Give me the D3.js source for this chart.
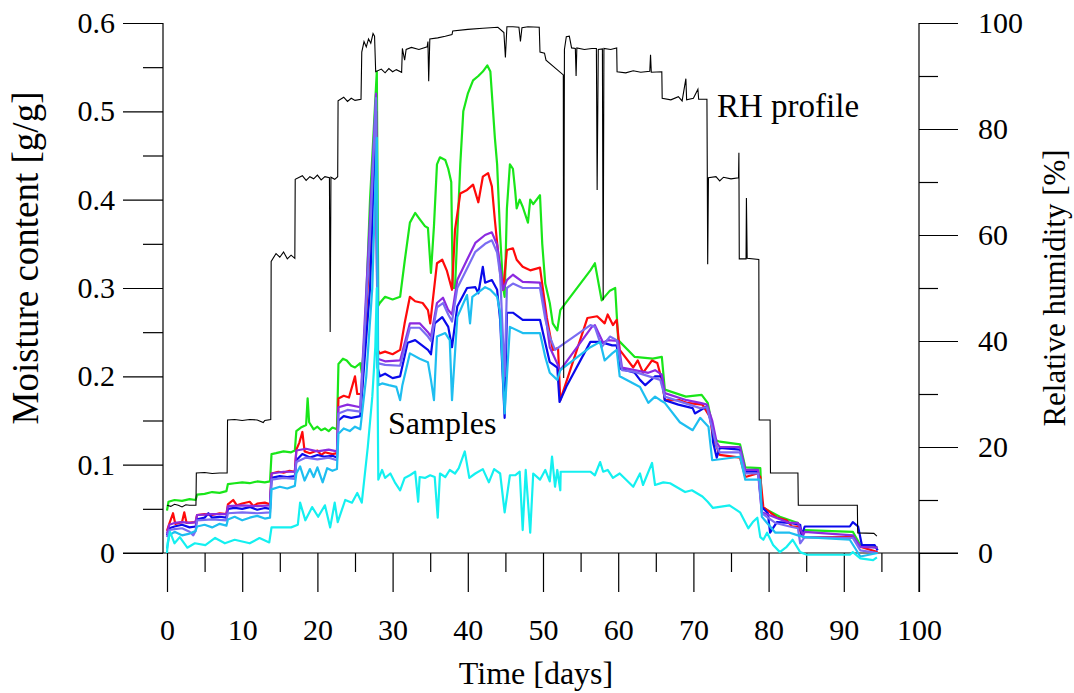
<!DOCTYPE html>
<html><head><meta charset="utf-8">
<script src="https://cdn.jsdelivr.net/npm/d3@7"></script>
<style>
html,body{margin:0;padding:0;background:#fff;}
svg{display:block;font-family:"Liberation Serif","Times New Roman",serif;}
</style></head>
<body><svg id="chart" width="1074" height="693"></svg>
<script>
// ---------- DATA ----------
const xTicksMajor = [0,10,20,30,40,50,60,70,80,90,100];
const xTicksMinor = [5,15,25,35,45,55,65,75,85,95];
const yTicksMajor = [0,0.1,0.2,0.3,0.4,0.5,0.6];
const yTicksMinor = [0.05,0.15,0.25,0.35,0.45,0.55];
const rhTicksMajor = [0,20,40,60,80,100];
const rhTicksMinor = [10,30,50,70,90];

// RH profile: [day, RH %]
const rhProfile = [[0,9.0],[0.5,8.8],[1,9.2],[1.5,9.0],[2,8.7],[2.5,9.1],[3,9.0],[3.85,9.0],
[3.9,15.1],[5,15.2],[6,15.0],[7,15.1],[8.0,15.1],
[8.05,25.1],[9,25.2],[10,25.0],[11,25.2],[12,25.1],[12.8,24.6],[13,25.0],[13.8,25.2],
[13.85,55.0],[14.5,56.5],[15,55.8],[15.5,56.8],[16,55.5],[16.5,56.2],[17,55.6],
[17.05,70.5],[18,71.2],[18.5,70.3],[19,71.0],[19.5,70.6],[20,71.3],[20.5,70.4],[21,71.0],[21.6,70.8],[21.7,41.7],[21.8,70.9],[22.3,70.5],[22.7,71.0],
[22.75,85.3],[23.5,86.0],[24,85.2],[24.5,85.8],[25,85.4],[25.8,85.6],
[25.9,94.5],[26.2,96.5],[26.5,95.5],[26.8,97.0],[27.1,96.2],[27.4,98.0],[27.6,97.5],
[27.75,90.8],[28.5,91.3],[29,90.6],[29.5,91.4],[30,90.8],[30.5,91.2],[31.2,90.7],
[31.3,95.2],[31.6,93.0],[31.8,95.0],[32.5,95.4],[33.5,95.0],[34.6,95.5],
[34.7,96.5],[34.8,89],[34.95,97.0],[36,97.2],[37,97.5],[37.9,97.8],
[38,98.5],[40,98.8],[42,99.0],[44,99.2],[44.8,98.2],[45,93.5],[45.2,99.3],[46,99.3],[46.8,99.2],[47,96.5],[47.2,99.1],[48,99.3],[49.5,99.2],
[49.6,94.5],[50.2,94.3],[50.4,93.0],[52.7,90.2],[52.75,33],[52.85,95],[53.1,97.4],[53.5,97.5],[53.8,95.3],[54.3,95.2],[54.4,90],[54.5,95.3],[55.5,95.0],[56.5,95.2],[57.1,95.2],[57.2,68.5],[57.35,95],[57.9,95.1],[58.0,47.7],[58.1,95.2],[59,95.0],[59.8,95.3],
[59.85,90.8],[61,90.6],[62,91.0],[63,90.7],[64.2,90.9],[64.3,94.0],[64.4,90.7],[65.8,90.8],
[65.85,85.8],[67,85.5],[68,86.1],[68.5,85.3],[69,89.5],[69.1,85.5],[70,85.8],[70.6,87.5],[70.7,85.6],[71.8,85.6],
[71.85,70.8],[71.9,54.5],[72,70.8],[73,71.0],[73.5,70.2],[74,70.9],[75,70.6],[76.0,70.8],[76.05,75.5],[76.1,55.5],[77,55.5],[77.05,67],[77.15,55.6],[78.7,55.4],
[78.75,25.1],[80.2,25.1],[80.25,15.1],[83.9,15.1],[83.95,9.0],[91.8,9.0],[91.85,3.8],[94,3.7],[94.4,3.2]];

// Sample moisture contents: [day, g/g]
const sampleGreen = [[0,0.048],[0.2,0.058],[1,0.06],[2,0.059],[3,0.061],[3.8,0.06],[4.0,0.066],[5,0.067],[6,0.069],[7,0.068],[7.9,0.07],[8.1,0.078],[9,0.079],[10,0.08],[11,0.079],[12,0.081],[13,0.08],[13.7,0.081],[13.9,0.112],[14.5,0.113],[15.5,0.115],[16.5,0.114],[17.0,0.116],[17.2,0.138],[17.8,0.142],[18.5,0.145],[18.7,0.175],[18.9,0.148],[19.5,0.14],[20,0.143],[20.5,0.139],[21,0.141],[21.5,0.138],[22,0.142],[22.6,0.14],[22.8,0.214],[23.4,0.22],[23.9,0.218],[24.5,0.212],[25,0.21],[25.7,0.215],[25.9,0.204],[26.3,0.245],[27.0,0.4],[27.9,0.545],[28.1,0.28],[28.3,0.283],[29,0.29],[30,0.287],[31.0,0.29],[31.6,0.33],[32.3,0.374],[33,0.385],[33.6,0.378],[34.3,0.37],[34.7,0.368],[35.1,0.317],[35.5,0.37],[35.9,0.44],[36.3,0.448],[37,0.445],[37.4,0.435],[37.8,0.42],[38.0,0.3],[38.3,0.3],[39.0,0.44],[39.4,0.5],[40.0,0.52],[40.7,0.535],[41.4,0.54],[42,0.545],[42.6,0.552],[43.0,0.545],[43.2,0.52],[43.6,0.47],[43.9,0.44],[44.3,0.36],[44.7,0.3],[44.9,0.29],[45.2,0.39],[45.6,0.44],[46,0.435],[46.3,0.41],[46.5,0.39],[46.9,0.4],[47.3,0.392],[48.0,0.374],[48.3,0.4],[48.7,0.395],[49.6,0.405],[49.9,0.35],[50.3,0.305],[50.9,0.283],[51.3,0.26],[51.9,0.252],[52.3,0.275],[56.3,0.32],[56.9,0.328],[57.8,0.286],[58.9,0.297],[59.6,0.3],[60.0,0.241],[62.2,0.222],[64.6,0.22],[65.8,0.222],[66.2,0.185],[69,0.177],[71.1,0.179],[71.9,0.17],[72.9,0.128],[73.5,0.126],[76.2,0.123],[76.9,0.097],[78.9,0.096],[79.1,0.052],[81.5,0.041],[83.9,0.034],[84.4,0.024],[84.8,0.026],[91.2,0.024],[92.2,0.009],[94.5,0.006]];

const sampleRed = [[0,0.025],[0.3,0.033],[0.8,0.045],[1.1,0.033],[2,0.035],[2.3,0.046],[2.6,0.034],[3.8,0.035],[4.0,0.043],[5,0.044],[6,0.043],[7,0.045],[7.9,0.044],[8.1,0.055],[8.8,0.06],[9.3,0.054],[10,0.056],[11,0.058],[11.5,0.053],[12,0.056],[13,0.057],[13.7,0.055],[13.9,0.09],[14.8,0.092],[15.5,0.091],[16.3,0.093],[17.0,0.092],[17.2,0.117],[17.6,0.125],[18.0,0.137],[18.3,0.115],[19,0.113],[20,0.116],[20.5,0.111],[21,0.114],[22,0.112],[22.6,0.113],[22.8,0.175],[23.5,0.178],[24.2,0.176],[25.0,0.2],[25.3,0.18],[25.9,0.18],[27.0,0.35],[27.8,0.5],[28.0,0.23],[28.3,0.226],[29,0.228],[30,0.225],[31.0,0.23],[31.6,0.26],[32.3,0.29],[33,0.285],[34,0.283],[34.7,0.275],[35.0,0.26],[35.9,0.328],[36.6,0.332],[37.2,0.32],[37.9,0.298],[38.3,0.366],[39,0.407],[39.9,0.411],[40.7,0.417],[41.4,0.397],[42,0.426],[42.7,0.43],[43.2,0.415],[43.6,0.377],[44.3,0.317],[44.7,0.298],[45.2,0.343],[46,0.345],[46.5,0.332],[47.3,0.324],[48.3,0.32],[49.6,0.323],[50.5,0.267],[51.3,0.23],[52.0,0.232],[52.3,0.173],[55.9,0.266],[57.2,0.268],[58.2,0.26],[58.6,0.27],[59.3,0.258],[59.8,0.264],[60.2,0.23],[62.0,0.21],[62.6,0.218],[63.3,0.204],[64.5,0.218],[65.2,0.215],[65.8,0.196],[66.2,0.173],[68.2,0.173],[69.1,0.17],[71.2,0.168],[72.2,0.154],[72.6,0.131],[73.5,0.111],[76.2,0.108],[76.9,0.086],[78.5,0.09],[78.9,0.086],[79.3,0.052],[81.1,0.04],[82.4,0.037],[83.1,0.03],[83.9,0.03],[84.6,0.018],[91.2,0.018],[92.2,0.007],[94.5,0.001]];

const sampleBlue = [[0,0.02],[0.3,0.028],[1,0.03],[2,0.032],[3,0.029],[3.8,0.03],[4.0,0.038],[5,0.04],[5.5,0.045],[6,0.04],[7,0.041],[7.9,0.04],[8.1,0.05],[9,0.051],[10,0.05],[11,0.052],[12,0.049],[13,0.051],[13.7,0.05],[13.9,0.085],[15,0.087],[16,0.086],[17.0,0.087],[17.2,0.105],[18,0.112],[19,0.108],[20,0.111],[21,0.109],[22,0.11],[22.6,0.108],[22.8,0.15],[23.5,0.155],[24.5,0.153],[25.7,0.155],[27.0,0.3],[27.8,0.5],[28.0,0.21],[28.3,0.2],[29,0.203],[30,0.198],[31.0,0.2],[32.0,0.238],[33.0,0.241],[34.7,0.23],[35.1,0.225],[35.6,0.26],[36.6,0.267],[37.4,0.256],[37.9,0.233],[38.6,0.279],[39.9,0.3],[41.0,0.301],[41.4,0.294],[42.0,0.324],[42.3,0.306],[43.2,0.309],[43.9,0.298],[44.3,0.264],[44.9,0.153],[45.2,0.272],[46,0.272],[47.3,0.264],[49.6,0.264],[50.3,0.238],[50.9,0.216],[51.9,0.21],[52.2,0.171],[53.2,0.19],[56.3,0.239],[57.6,0.239],[59.2,0.235],[59.8,0.235],[60.2,0.209],[62.2,0.204],[62.9,0.196],[63.6,0.19],[64.9,0.2],[65.8,0.2],[66.2,0.173],[68.0,0.168],[69.9,0.164],[70.2,0.158],[71.8,0.166],[72.5,0.143],[72.6,0.126],[73.1,0.108],[73.5,0.119],[76.2,0.117],[76.9,0.092],[78.6,0.092],[79.1,0.052],[79.9,0.045],[80.2,0.023],[81.1,0.035],[82.8,0.034],[84.2,0.032],[84.4,0.02],[84.8,0.03],[90.8,0.03],[91.2,0.035],[91.9,0.03],[92.4,0.009],[94.1,0.009],[94.5,0.003]];

const samplePurple = [[0,0.022],[0.3,0.032],[1,0.034],[2,0.035],[3,0.034],[3.8,0.035],[4.0,0.043],[6,0.044],[7.9,0.044],[8.1,0.053],[10,0.054],[12,0.053],[13.7,0.054],[13.9,0.09],[15.5,0.092],[17.0,0.092],[17.2,0.116],[18.5,0.118],[20,0.115],[21.5,0.117],[22.6,0.115],[22.8,0.165],[24,0.168],[25.7,0.165],[27.0,0.38],[27.8,0.52],[28.0,0.22],[29,0.217],[31.0,0.218],[32.3,0.26],[33.6,0.26],[34.7,0.25],[35.1,0.245],[35.9,0.283],[36.7,0.289],[37.4,0.275],[37.9,0.27],[38.6,0.309],[39.9,0.332],[41.0,0.351],[42.3,0.36],[43.2,0.363],[43.9,0.349],[44.3,0.324],[44.7,0.298],[45.2,0.309],[46,0.315],[47.3,0.307],[49.6,0.306],[50.3,0.272],[50.9,0.233],[52.3,0.207],[56.5,0.256],[56.9,0.258],[58.0,0.238],[58.6,0.241],[60.0,0.24],[60.5,0.21],[62.2,0.207],[64.0,0.204],[64.9,0.207],[65.8,0.202],[66.2,0.181],[69.1,0.173],[70.9,0.17],[71.8,0.168],[72.5,0.15],[73.1,0.125],[73.5,0.12],[76.2,0.12],[76.9,0.094],[78.6,0.094],[79.1,0.046],[82.8,0.034],[83.9,0.034],[84.6,0.02],[84.8,0.024],[91.2,0.02],[92.2,0.007],[94.5,0.006]];

const sampleSlate = [[0,0.018],[0.3,0.026],[1,0.027],[2,0.028],[3,0.024],[3.5,0.02],[3.8,0.025],[4.0,0.037],[6,0.038],[7.9,0.037],[8.1,0.045],[10,0.046],[12,0.045],[13.7,0.046],[13.9,0.083],[15.5,0.085],[17.0,0.084],[17.2,0.103],[18.5,0.108],[20,0.106],[21.5,0.108],[22.6,0.105],[22.8,0.158],[24,0.162],[25.7,0.16],[27.0,0.36],[27.8,0.515],[28.0,0.215],[29,0.213],[31.0,0.212],[32.3,0.255],[33.6,0.255],[34.7,0.245],[35.1,0.24],[35.9,0.278],[36.7,0.283],[37.4,0.27],[37.9,0.262],[38.6,0.3],[39.9,0.322],[41.0,0.341],[42.3,0.35],[43.2,0.354],[43.9,0.34],[44.3,0.315],[44.9,0.2],[45.2,0.3],[46,0.305],[47.3,0.3],[49.6,0.3],[50.3,0.265],[50.9,0.245],[51.6,0.23],[56.3,0.258],[56.9,0.256],[57.8,0.233],[58.9,0.245],[59.8,0.241],[60.5,0.207],[62.2,0.205],[65.6,0.196],[66.2,0.177],[70.9,0.164],[71.8,0.165],[73.1,0.12],[73.5,0.114],[76.2,0.114],[76.9,0.09],[78.6,0.09],[79.1,0.045],[80.9,0.034],[82.8,0.03],[83.9,0.028],[84.2,0.011],[84.8,0.018],[91.2,0.017],[92.2,0.003],[94.5,0.0]];

const sampleSky = [[0,0.005],[0.3,0.02],[1,0.024],[2,0.02],[3,0.022],[3.8,0.025],[4.0,0.03],[5,0.032],[6,0.029],[7,0.033],[7.9,0.031],[8.1,0.038],[9,0.041],[10,0.037],[11,0.04],[12,0.042],[13,0.039],[13.7,0.04],[13.9,0.072],[15,0.075],[16,0.073],[17.0,0.076],[17.2,0.09],[17.7,0.098],[18.3,0.082],[19,0.095],[19.5,0.086],[20,0.097],[20.7,0.08],[21.3,0.096],[22,0.093],[22.6,0.095],[22.8,0.135],[23.5,0.141],[24.3,0.138],[25,0.143],[25.7,0.14],[26.5,0.2],[27.3,0.3],[27.9,0.47],[28.1,0.19],[28.6,0.192],[29.5,0.19],[30.5,0.188],[31.0,0.173],[31.3,0.19],[32.3,0.226],[33.6,0.22],[34.7,0.216],[35.1,0.196],[35.5,0.173],[35.9,0.245],[37.0,0.249],[37.6,0.241],[37.9,0.173],[38.6,0.267],[39.9,0.292],[40.3,0.26],[40.6,0.29],[41.4,0.295],[42.3,0.301],[43.0,0.298],[43.9,0.29],[44.3,0.272],[44.9,0.158],[45.6,0.256],[47.3,0.249],[49.6,0.249],[50.3,0.222],[50.9,0.204],[51.9,0.196],[52.3,0.207],[56.3,0.233],[57.6,0.239],[58.2,0.218],[59.2,0.226],[59.8,0.23],[60.2,0.2],[62.9,0.188],[64.0,0.17],[64.9,0.177],[65.6,0.173],[66.2,0.17],[68.2,0.148],[69.9,0.139],[70.9,0.153],[72.0,0.143],[72.5,0.105],[76.2,0.109],[76.9,0.083],[78.9,0.083],[79.1,0.041],[80.9,0.023],[82.8,0.023],[83.9,0.02],[84.8,0.018],[90.8,0.015],[92.2,-0.004],[94.5,0.0]];

const sampleCyan = [[0,0.0],[0.1,0.012],[0.4,0.024],[1.0,0.011],[1.7,0.018],[2.7,0.006],[3.7,0.011],[5.1,0.009],[6.4,0.017],[7.7,0.011],[9.0,0.015],[11.0,0.011],[12.3,0.017],[13.6,0.012],[13.9,0.029],[16.5,0.029],[17.4,0.032],[17.7,0.057],[18.4,0.037],[19.3,0.052],[20.1,0.041],[21.0,0.054],[21.7,0.029],[22.3,0.057],[22.7,0.035],[23.7,0.06],[24.6,0.057],[25.3,0.068],[25.9,0.057],[26.7,0.12],[27.3,0.177],[27.7,0.233],[27.9,0.3],[28.1,0.083],[28.6,0.094],[29.0,0.085],[29.7,0.09],[30.3,0.08],[31.0,0.071],[31.6,0.085],[32.3,0.088],[33.0,0.092],[33.4,0.058],[33.6,0.086],[34.3,0.085],[35.0,0.088],[35.6,0.086],[36.0,0.04],[36.3,0.09],[37.0,0.086],[37.6,0.094],[38.3,0.09],[38.8,0.096],[39.6,0.115],[40.2,0.085],[41,0.09],[42,0.095],[42.8,0.08],[43.5,0.095],[44.3,0.09],[44.9,0.046],[45.6,0.088],[46.3,0.088],[46.9,0.092],[47.3,0.026],[47.7,0.094],[48.3,0.023],[48.7,0.09],[49.6,0.083],[50.3,0.094],[50.9,0.081],[51.2,0.109],[51.6,0.075],[51.9,0.094],[52.3,0.071],[52.35,0.092],[56.3,0.092],[56.9,0.088],[57.6,0.103],[58.0,0.092],[58.6,0.094],[59.3,0.085],[60.2,0.09],[62.0,0.075],[62.9,0.09],[63.3,0.077],[64.5,0.102],[64.9,0.077],[66.0,0.08],[66.9,0.079],[68.9,0.069],[69.8,0.071],[71.2,0.064],[71.9,0.058],[72.6,0.051],[74.8,0.054],[76.2,0.046],[77.3,0.028],[77.9,0.035],[78.5,0.04],[78.9,0.018],[79.3,0.015],[79.8,0.023],[80.6,0.009],[81.5,0.001],[82.4,0.007],[83.2,0.015],[84.2,0.001],[85.1,-0.002],[90.8,-0.002],[91.2,0.001],[92.2,-0.006],[93.9,-0.008],[94.4,-0.005]];

const sampleSeries = [
  {name:"green", color:"#19e619", data:sampleGreen},
  {name:"red", color:"#ff0a0a", data:sampleRed},
  {name:"blue", color:"#0a0aeb", data:sampleBlue},
  {name:"purple", color:"#8c2ae0", data:samplePurple},
  {name:"slate", color:"#7a6cf2", data:sampleSlate},
  {name:"sky", color:"#1ebef0", data:sampleSky},
  {name:"cyan", color:"#14f0f0", data:sampleCyan}
];

// ---------- CHART ----------
const svg = d3.select("#chart");
const FONT = 30;
const tf = '"Liberation Serif","Times New Roman",Times,serif';
const x = d3.scaleLinear().domain([0,100]).range([167,919]);
const y = d3.scaleLinear().domain([0,0.6]).range([553,23]);
const yR = d3.scaleLinear().domain([0,100]).range([553,23]);

svg.append("rect").attr("width",1074).attr("height",693).attr("fill","#fff");

// axes frame lines
const frame = svg.append("g").attr("stroke","#000").attr("stroke-width",1.2).attr("fill","none");
frame.append("line").attr("x1",163).attr("x2",163).attr("y1",y(0.6)).attr("y2",y(0));
frame.append("line").attr("x1",919).attr("x2",919).attr("y1",yR(100)).attr("y2",592);
frame.append("line").attr("x1",123).attr("x2",958).attr("y1",y(0)).attr("y2",y(0));

function styleAxis(g){
  g.select(".domain").remove();
  g.selectAll(".tick line").attr("stroke","#000").attr("stroke-width",1.2);
  g.selectAll(".tick text").attr("fill","#000").style("font-size",FONT+"px").style("font-family",tf);
}

const fmtY = d => d===0 ? "0" : d3.format(".1f")(d);
svg.append("g").attr("transform","translate(163,0)")
  .call(d3.axisLeft(y).tickValues(yTicksMajor).tickSize(40).tickPadding(8).tickFormat(fmtY)).call(styleAxis);
svg.append("g").attr("transform","translate(163,0)")
  .call(d3.axisLeft(y).tickValues(yTicksMinor).tickSize(20).tickFormat("")).call(styleAxis);
svg.append("g").attr("transform","translate(919,0)")
  .call(d3.axisRight(yR).tickValues(rhTicksMajor).tickSize(39).tickPadding(20).tickFormat(d3.format("d"))).call(styleAxis);
svg.append("g").attr("transform","translate(919,0)")
  .call(d3.axisRight(yR).tickValues(rhTicksMinor).tickSize(19).tickFormat("")).call(styleAxis);
svg.append("g").attr("transform","translate(0,553)")
  .call(d3.axisBottom(x).tickValues(xTicksMajor).tickSize(39).tickPadding(27).tickFormat(d3.format("d"))).call(styleAxis);
svg.append("g").attr("transform","translate(0,553)")
  .call(d3.axisBottom(x).tickValues(xTicksMinor).tickSize(19).tickFormat("")).call(styleAxis);

// sample lines
const lineS = d3.line().x(d=>x(d[0])).y(d=>y(d[1]));
svg.append("g").selectAll("path").data(sampleSeries).join("path")
  .attr("d", s=>lineS(s.data)).attr("fill","none")
  .attr("stroke", s=>s.color).attr("stroke-width",2.2).attr("stroke-linejoin","round");

// RH profile
const lineR = d3.line().x(d=>x(d[0])).y(d=>yR(d[1]));
svg.append("path").attr("d", lineR(rhProfile)).attr("fill","none")
  .attr("stroke","#000").attr("stroke-width",1.1);

// labels
svg.append("text").attr("x",717).attr("y",117).style("font-size","33px").style("font-family",tf).text("RH profile");
svg.append("text").attr("x",388).attr("y",434).style("font-size","32px").style("font-family",tf).text("Samples");
svg.append("text").attr("x",536).attr("y",684).attr("text-anchor","middle").style("font-size","32px").style("font-family",tf).text("Time [days]");
svg.append("text").attr("transform","translate(38,258) rotate(-90)").attr("text-anchor","middle").style("font-size","37px").style("font-family",tf).text("Moisture content [g/g]");
svg.append("text").attr("transform","translate(1065,288) rotate(-90)").attr("text-anchor","middle").style("font-size","31px").style("font-family",tf).text("Relative humidity [%]");
</script></body></html>
